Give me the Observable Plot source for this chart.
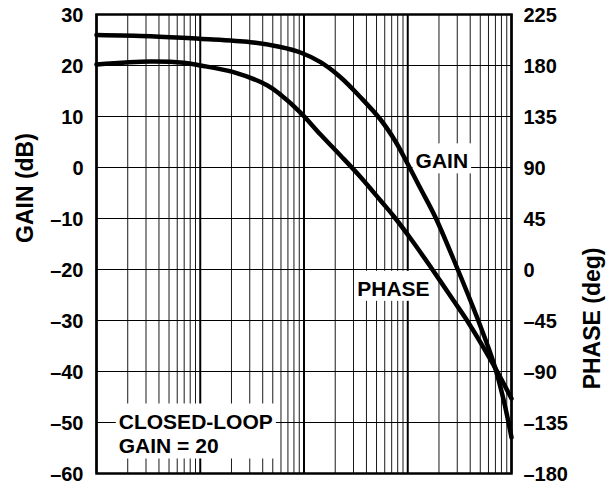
<!DOCTYPE html>
<html><head><meta charset="utf-8">
<script src="https://cdn.jsdelivr.net/npm/d3@7"></script>
<script src="https://cdn.jsdelivr.net/npm/@observablehq/plot@0.6"></script>
<style>
body{margin:0;background:#fff;}
#chart{width:613px;height:481px;overflow:hidden;}
</style></head><body><div id="chart"></div>
<script>
// Frequency (Hz) and closed-loop gain (dB)
const gainFreq = [1e4, 3.32e4, 9.83e4, 3.05e5, 5.93e5, 9.25e5, 1.442e6, 2.248e6, 3.504e6, 5.46e6, 7.62e6, 9.94e6, 1.327e7, 1.852e7, 2.951e7, 4.701e7, 6.71e7, 8.377e7, 1e8];
const gainDb   = [26.0, 25.75, 25.24, 24.57, 23.63, 22.55, 20.65, 17.71, 13.78, 9.41, 5.10, 0.78, -4.12, -9.80, -19.41, -29.61, -38.24, -45.49, -52.94];
// Frequency (Hz) and phase (deg)
const phaseFreq = [1e4, 3.32e4, 6.9e4, 1.006e5, 2.09e5, 4.45e5, 6.07e5, 9.25e5, 1.442e6, 2.248e6, 3.504e6, 5.46e6, 7.29e6, 1.099e7, 1.675e7, 2.761e7, 3.766e7, 6.56e7, 1e8];
const phaseDeg  = [180.9, 183.5, 182.4, 180.0, 174.1, 162.4, 153.5, 138.5, 119.1, 100.6, 81.6, 60.9, 47.2, 25.6, 1.8, -27.4, -45.6, -82.6, -113.8];
// Axes
const gainTicks = [-60, -50, -40, -30, -20, -10, 0, 10, 20, 30];
const phaseTicks = [-180, -135, -90, -45, 0, 45, 90, 135, 180, 225];
const decades = [1e4, 1e5, 1e6, 1e7, 1e8];
const multipliers = [2, 3, 4, 5, 6, 7, 8, 9];
// Annotations (frequency, gain-axis value)
const labelTexts = ["GAIN", "PHASE", "CLOSED-LOOP\nGAIN = 20"];
const labelFreq = [1.19e7, 3.26e6, 1.64e4];
const labelDb = [1.4, -23.6, -52.06];

const gainRows = gainFreq.map((f, i) => ({f, v: gainDb[i]}));
const phaseRows = phaseFreq.map((f, i) => ({f, p: phaseDeg[i]}));
const labels = labelTexts.map((t, i) => ({t, f: labelFreq[i], v: labelDb[i]}));
const minor = decades.slice(0, -1).flatMap(d => multipliers.map(m => d * m));
// phase axis is linked to gain axis: 20 dB <-> 180 deg, 10 dB <-> 45 deg
const phaseToGain = p => 20 + (p - 180) / 4.5;
const gainToPhase = g => Math.round(180 + (g - 20) * 4.5);
const fmt = v => v < 0 ? "\u2013" + Math.abs(v) : String(v);

const font = "'Liberation Sans', Arial, Helvetica, sans-serif";
const plot = Plot.plot({
  width: 613, height: 481,
  marginLeft: 96, marginRight: 102, marginTop: 14, marginBottom: 8,
  style: {fontFamily: font, fontWeight: "bold", background: "white", color: "black"},
  x: {type: "log", domain: [1e4, 1e8], axis: null},
  y: {domain: [-60, 30]},
  marks: [
    Plot.ruleX(minor, {stroke: "#000", strokeWidth: 1, strokeOpacity: 0.9}),
    Plot.ruleX(decades, {stroke: "#000", strokeWidth: 2}),
    Plot.ruleY(gainTicks, {stroke: "#000", strokeWidth: 1}),
    Plot.text(labels, {x: "f", y: "v", text: "t", textAnchor: "start", fontSize: 21, fontWeight: "bold",
      lineHeight: 1.19, fill: "black"}),
    Plot.line(gainRows, {x: "f", y: "v", curve: "catmull-rom", stroke: "black", strokeWidth: 4.5}),
    Plot.line(phaseRows, {x: "f", y: d => phaseToGain(d.p), curve: "catmull-rom", stroke: "black", strokeWidth: 4.5}),
    Plot.axisY(gainTicks, {anchor: "left", tickSize: 0, tickPadding: 13, tickFormat: fmt, fontSize: 20,
      fontWeight: "bold", dy: 1, label: null}),
    Plot.axisY(phaseTicks.map(phaseToGain), {anchor: "right", tickSize: 0, tickPadding: 12,
      tickFormat: g => fmt(gainToPhase(g)), fontSize: 20, fontWeight: "bold", dy: 1, label: null}),
    Plot.text(["GAIN (dB)"], {frameAnchor: "left", rotate: -90, dx: -70.5, dy: -1, fontSize: 23, fontWeight: "bold", fill: "black"}),
    Plot.text(["PHASE (deg)"], {frameAnchor: "right", rotate: -90, dx: 81, dy: 3.5, fontSize: 23, fontWeight: "bold", fill: "black"}),
    Plot.frame({stroke: "black", strokeWidth: 2.5})
  ]
});
document.getElementById("chart").append(plot);
// white boxes behind annotation text
const wanted = new Set(labelTexts.map(s => s.replace(/\n/g, "")));
plot.querySelectorAll("text").forEach(t => {
  if (!wanted.has(t.textContent.replace(/\n/g, ""))) return;
  const b = t.getBBox();
  const r = document.createElementNS("http://www.w3.org/2000/svg", "rect");
  r.setAttribute("x", b.x - 3);
  r.setAttribute("y", b.y - 6);
  r.setAttribute("width", b.width + 6);
  r.setAttribute("height", b.height + 7);
  r.setAttribute("fill", "white");
  const tr = t.getAttribute("transform");
  if (tr) r.setAttribute("transform", tr);
  t.parentNode.insertBefore(r, t);
});
</script></body></html>
